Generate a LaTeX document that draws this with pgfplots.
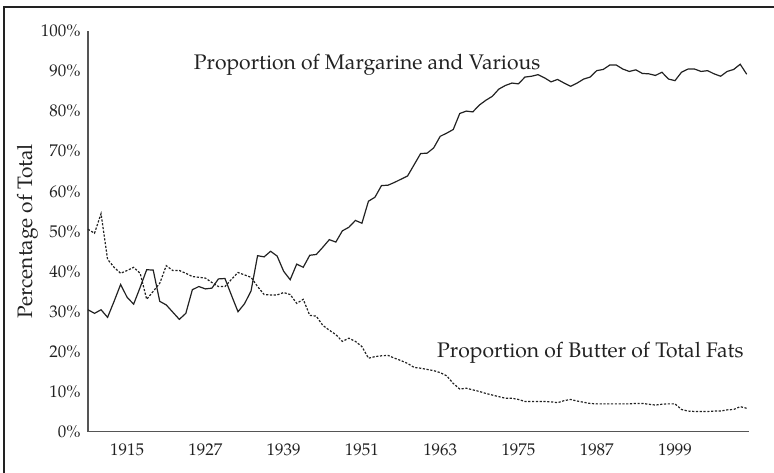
\documentclass[border=0pt]{standalone}
\usepackage{fontspec}
\setmainfont{TeX Gyre Pagella}
\usepackage{pgfplots}
\pgfplotsset{compat=1.18}

\pgfplotstableread{
year marg
1909 30.4
1910 29.5
1911 30.4
1912 28.5
1913 32.5
1914 36.7
1915 33.5
1916 31.8
1917 36.0
1918 40.4
1919 40.3
1920 32.5
1921 31.6
1922 29.8
1923 28.0
1924 29.5
1925 35.4
1926 36.2
1927 35.6
1928 35.8
1929 38.1
1930 38.2
1931 34.0
1932 29.9
1933 31.9
1934 35.1
1935 43.9
1936 43.6
1937 45.0
1938 43.8
1939 40.0
1940 37.9
1941 41.8
1942 41.0
1943 44.0
1944 44.2
1945 46.0
1946 47.9
1947 47.3
1948 50.1
1949 51.0
1950 52.7
1951 52.0
1952 57.5
1953 58.5
1954 61.4
1955 61.5
1956 62.2
1957 63.0
1958 63.8
1959 66.6
1960 69.4
1961 69.5
1962 70.8
1963 73.7
1964 74.5
1965 75.4
1966 79.4
1967 80.0
1968 79.8
1969 81.5
1970 82.7
1971 83.7
1972 85.5
1973 86.4
1974 87.0
1975 86.8
1976 88.5
1977 88.7
1978 89.1
1979 88.3
1980 87.3
1981 87.9
1982 87.0
1983 86.2
1984 87.0
1985 88.0
1986 88.5
1987 90.1
1988 90.4
1989 91.5
1990 91.5
1991 90.5
1992 89.9
1993 90.3
1994 89.4
1995 89.3
1996 88.9
1997 89.7
1998 88.0
1999 87.6
2000 89.7
2001 90.5
2002 90.5
2003 89.9
2004 90.1
2005 89.3
2006 88.7
2007 89.9
2008 90.4
2009 91.7
2010 89.2
}\margtable

\pgfplotstableread{
year butter
1909 50.5
1910 49.5
1911 54.4
1912 43.0
1913 41.0
1914 39.5
1915 40.2
1916 41.0
1917 39.5
1918 33.0
1919 35.0
1920 37.0
1921 41.4
1922 40.2
1923 40.2
1924 39.5
1925 38.7
1926 38.5
1927 38.3
1928 37.2
1929 36.2
1930 36.2
1931 38.0
1932 39.7
1933 39.1
1934 38.5
1935 36.2
1936 34.2
1937 34.1
1938 34.1
1939 34.7
1940 34.2
1941 32.0
1942 33.0
1943 29.0
1944 28.8
1945 26.5
1946 25.3
1947 24.2
1948 22.5
1949 23.3
1950 22.5
1951 21.2
1952 18.3
1953 18.7
1954 18.9
1955 19.0
1956 18.3
1957 17.7
1958 17.0
1959 16.0
1960 15.8
1961 15.5
1962 15.2
1963 14.7
1964 13.9
1965 12.0
1966 10.6
1967 10.8
1968 10.4
1969 10.0
1970 9.5
1971 9.1
1972 8.7
1973 8.3
1974 8.3
1975 8.0
1976 7.5
1977 7.5
1978 7.5
1979 7.5
1980 7.4
1981 7.2
1982 7.7
1983 8.0
1984 7.6
1985 7.3
1986 7.0
1987 6.9
1988 6.9
1989 6.9
1990 6.9
1991 6.9
1992 6.9
1993 7.0
1994 7.0
1995 6.8
1996 6.6
1997 6.8
1998 6.9
1999 6.9
2000 5.5
2001 5.1
2002 5.0
2003 5.0
2004 5.0
2005 5.1
2006 5.1
2007 5.4
2008 5.5
2009 6.2
2010 5.8
}\buttertable

\definecolor{ink}{HTML}{222222}
\definecolor{axisgray}{HTML}{555555}

\begin{document}
\begin{tikzpicture}
% page = 774 x 473 px, 1px = 1bp, axis origin at pixel (88, 431.5)
\useasboundingbox (-88bp,-41.5bp) rectangle (686bp,431.5bp);
\draw[ink, line width=1.2bp] (-84bp,-45bp) -- (-84bp,424.5bp) -- (690bp,424.5bp);

\begin{axis}[
    at={(0,0)}, anchor=origin,
    scale only axis,
    width=661bp,
    height=400.5bp,
    xmin=1909, xmax=2010.35,
    ymin=0, ymax=100,
    axis x line=bottom,
    axis y line=left,
    axis line style={axisgray, line width=1.1bp, -},
    major tick length=0pt,
    xtick={1915,1927,...,1999},
    ytick={0,10,...,100},
    yticklabel={\pgfmathprintnumber{\tick}\%},
    /pgf/number format/assume math mode=true,
    xticklabel style={/pgf/number format/1000 sep={}, yshift=-9bp},
    yticklabel style={xshift=-4bp},
    ticklabel style={font=\fontsize{17}{20}\selectfont, text=ink},
    ylabel={Percentage of Total},
    ylabel style={font=\fontsize{21}{24}\selectfont, text=ink,
        at={(axis description cs:-0.0908,0.5)}, anchor=center},
    clip=false,
]
\addplot[ink, line width=1.2bp] table[x=year, y=marg] {\margtable};
\addplot[ink, line width=1.2bp, dash pattern=on 2.2bp off 1.6bp] table[x=year, y=butter] {\buttertable};

\node[anchor=west, text=ink, font=\fontsize{21.2}{24}\selectfont] at (axis cs:1924.7,91.6) {Proportion of Margarine and Various};
\node[anchor=west, text=ink, font=\fontsize{21.2}{24}\selectfont] at (axis cs:1962.0,19.6) {Proportion of Butter of Total Fats};
\end{axis}
\end{tikzpicture}
\end{document}
